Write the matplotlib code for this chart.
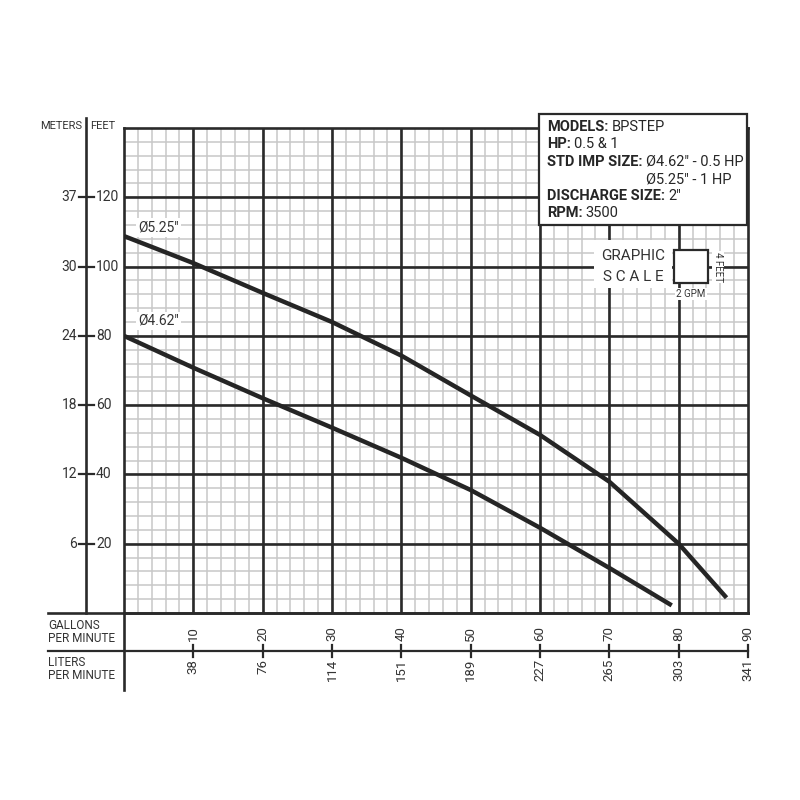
import numpy as np
import matplotlib
matplotlib.use("Agg")
import matplotlib.pyplot as plt
import matplotlib.transforms as mtransforms
from matplotlib.lines import Line2D
from matplotlib.patches import Rectangle

plt.rcParams['font.family'] = ['Roboto', 'DejaVu Sans']

# pump curves (gpm, feet of head)
gpm_525 = [0, 10, 20, 30, 40, 50, 60, 70, 80, 86.9]
head_525 = [108.8, 101, 92.4, 84, 74.3, 62.8, 51.4, 37.9, 20, 4.4]
gpm_462 = [0, 10, 20, 30, 40, 50, 60, 70, 79]
head_462 = [80, 70.8, 62, 53.5, 44.8, 35.5, 24.6, 13, 2.2]

feet_ticks = [20, 40, 60, 80, 100, 120]
meter_labels = ['6', '12', '18', '24', '30', '37']
gpm_ticks = [10, 20, 30, 40, 50, 60, 70, 80, 90]
lpm_labels = ['38', '76', '114', '151', '189', '227', '265', '303', '341']

DARK = '#2a2a2a'
TXT = '#333333'
W = H = 800


def fx(x):
    return x / W


def fy(y):
    return 1 - y / H


fig = plt.figure(figsize=(8, 8), dpi=100)
fig.patch.set_facecolor('white')

ax = fig.add_axes([fx(124), fy(613), (748 - 124) / W, (613 - 128) / H])
ax.set_xlim(0, 90)
ax.set_ylim(0, 140)
ax.set_xticks([])
ax.set_yticks([])

# grid: light every 2 gpm / 4 ft, dark every 10 gpm / 20 ft
ax.vlines(np.arange(2, 90, 2), 0, 140, color='#c8c8c8', lw=1.1, zorder=1)
ax.hlines(np.arange(4, 140, 4), 0, 90, color='#c8c8c8', lw=1.1, zorder=1)
ax.vlines(np.arange(10, 90, 10), 0, 140, color=DARK, lw=1.9, zorder=2)
ax.hlines(np.arange(20, 140, 20), 0, 90, color=DARK, lw=1.9, zorder=2)
for s in ax.spines.values():
    s.set_color(DARK)
    s.set_linewidth(1.9)

ax.plot(gpm_525, head_525, color='#252525', lw=3.2, solid_capstyle='butt', zorder=3)
ax.plot(gpm_462, head_462, color='#252525', lw=3.2, solid_capstyle='butt', zorder=3)

lab_box = dict(facecolor='white', edgecolor='none', pad=1.5)
ax.text(2.0, 111.3, 'Ø5.25"', fontsize=10, color=TXT, va='center', bbox=lab_box, zorder=4)
ax.text(2.0, 84.4, 'Ø4.62"', fontsize=10, color=TXT, va='center', bbox=lab_box, zorder=4)

# left axis (meters | feet)
ty = mtransforms.blended_transform_factory(fig.transFigure, ax.transData)
fig.add_artist(Line2D([fx(86), fx(86)], [fy(118), fy(613)], transform=fig.transFigure,
                      color=DARK, lw=1.9))
for ft, m in zip(feet_ticks, meter_labels):
    fig.add_artist(Line2D([fx(79), fx(94)], [ft, ft], transform=ty, color=DARK, lw=1.6))
    fig.text(fx(77), ft, m, transform=ty, ha='right', va='center', fontsize=10, color=TXT)
    fig.text(fx(96), ft, str(ft), transform=ty, ha='left', va='center', fontsize=10, color=TXT)
fig.text(fx(82), fy(126), 'METERS', ha='right', va='center', fontsize=8, color=TXT)
fig.text(fx(90), fy(126), 'FEET', ha='left', va='center', fontsize=8, color=TXT)

# bottom axes (gpm / lpm)
tx = mtransforms.blended_transform_factory(ax.transData, fig.transFigure)
fig.add_artist(Line2D([fx(48), fx(748)], [fy(613), fy(613)], transform=fig.transFigure,
                      color=DARK, lw=1.9))
fig.add_artist(Line2D([fx(48), fx(748)], [fy(651), fy(651)], transform=fig.transFigure,
                      color=DARK, lw=1.6))
fig.add_artist(Line2D([fx(124), fx(124)], [fy(613), fy(690)], transform=fig.transFigure,
                      color=DARK, lw=1.9))
for g, l in zip(gpm_ticks, lpm_labels):
    fig.add_artist(Line2D([g, g], [fy(645), fy(657)], transform=tx, color=DARK, lw=1.6))
    fig.text(g, fy(641), str(g), transform=tx, rotation=90, ha='center', va='bottom',
             fontsize=9.5, color=TXT)
    fig.text(g, fy(659), l, transform=tx, rotation=90, ha='center', va='top',
             fontsize=9.5, color=TXT)
fig.text(fx(48), fy(632), 'GALLONS\nPER MINUTE', ha='left', va='center', fontsize=8.5,
         color=TXT, linespacing=1.0)
fig.text(fx(48), fy(669), 'LITERS\nPER MINUTE', ha='left', va='center', fontsize=8.5,
         color=TXT, linespacing=1.0)

# info box
fig.add_artist(Rectangle((fx(539), fy(225)), (747 - 539) / W, (225 - 114) / H,
                         transform=fig.transFigure, facecolor='white', edgecolor=DARK,
                         lw=1.6, zorder=5))
renderer = fig.canvas.get_renderer()


def info_line(y, bold, rest, x=547, fs=10.5):
    t = fig.text(fx(x), fy(y), bold, fontweight='bold', fontsize=fs, color='#262626',
                 ha='left', va='center', zorder=6)
    bb = t.get_window_extent(renderer)
    x2 = bb.x1 + 3
    fig.text(x2 / W, fy(y), rest, fontsize=fs, color='#262626', ha='left', va='center',
             zorder=6)
    return x2


info_line(127, 'MODELS:', 'BPSTEP')
info_line(144, 'HP:', '0.5 & 1')
x_imp = info_line(162, 'STD IMP SIZE:', 'Ø4.62" - 0.5 HP')
fig.text(x_imp / W, fy(179), 'Ø5.25" - 1 HP', fontsize=10.5, color='#262626', ha='left',
         va='center', zorder=6)
info_line(196, 'DISCHARGE SIZE:', '2"')
info_line(213, 'RPM:', '3500')

# graphic scale
fig.add_artist(Rectangle((fx(594), fy(288)), (672 - 594) / W, (288 - 240) / H,
                         transform=fig.transFigure, facecolor='white', edgecolor='none',
                         zorder=5))
fig.add_artist(Rectangle((fx(674), fy(283)), (708 - 674) / W, (283 - 250) / H,
                         transform=fig.transFigure, facecolor='white', edgecolor=DARK,
                         lw=1.6, zorder=5))
fig.text(fx(633), fy(256), 'GRAPHIC', ha='center', va='center', fontsize=11, color=TXT,
         zorder=6)
fig.text(fx(633), fy(277), 'S C A L E', ha='center', va='center', fontsize=11, color=TXT,
         zorder=6)
fig.text(fx(718), fy(267), '4 FEET', rotation=270, ha='center', va='center', fontsize=7,
         color=TXT, zorder=6, bbox=dict(facecolor='white', edgecolor='none', pad=1))
fig.text(fx(691), fy(294), '2 GPM', ha='center', va='center', fontsize=7, color=TXT,
         zorder=6, bbox=dict(facecolor='white', edgecolor='none', pad=1))

fig.savefig('out.png', dpi=100, facecolor='white')
